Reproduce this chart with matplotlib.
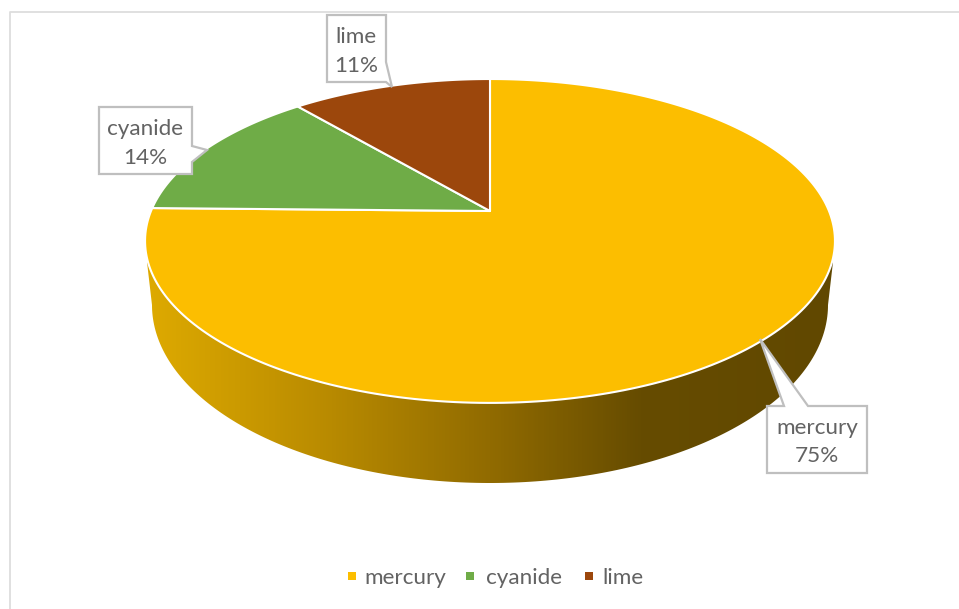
import numpy as np
import matplotlib
matplotlib.use("Agg")
import matplotlib.pyplot as plt
from matplotlib.patches import Polygon, Rectangle
from matplotlib.colors import LinearSegmentedColormap

categories = ["mercury", "cyanide", "lime"]
values = [75.3, 13.5, 11.2]
colors = ["#FCBE00", "#6FAC47", "#9C470C"]

plt.rcParams["font.family"] = ["Lato", "DejaVu Sans"]
TEXT = "#636363"
FS = 16.2
W, H = 959, 609
fig = plt.figure(figsize=(W / 100, H / 100), dpi=100, facecolor="white")
ax = fig.add_axes([0, 0, 1, 1])
ax.set_xlim(0, W)
ax.set_ylim(H, 0)
ax.axis("off")

# chart frame
ax.plot([10, 10, W], [H, 11.5, 11.5], color="#DDDDDD", lw=1.3, zorder=1)

# perspective projection of a unit disk on the screen
CX, CY, A, B, K = 490, 211, 339, 156.4, 0.185


def project(theta_deg):
    t = np.radians(theta_deg)
    u, v = np.sin(t), np.cos(t)
    w = 1 + K * v
    return CX + A * u / w, CY - B * v / w


fractions = np.cumsum([0] + values) / sum(values) * 360

# side wall with horizontal gradient, clipped to its outline
t = np.linspace(0, np.pi, 200)
sx = 490 + 338 * np.cos(t)
sy = 305 + 178 * np.sin(t)
outline = np.column_stack([
    np.r_[833, sx, 147],
    np.r_[262, sy, 262],
])
side = Polygon(outline, closed=True, fc="none", ec="none", transform=ax.transData)
ax.add_patch(side)
cmap = LinearSegmentedColormap.from_list(
    "side",
    [(0.0, (222 / 255, 170 / 255, 0)),
     (0.27, (184 / 255, 138 / 255, 0)),
     (0.50, (145 / 255, 107 / 255, 0)),
     (0.72, (102 / 255, 76 / 255, 0)),
     (1.0, (97 / 255, 72 / 255, 0))],
)
im = ax.imshow(np.linspace(0, 1, 700)[None, :], extent=(145, 835, 490, 255),
               cmap=cmap, aspect="auto", zorder=2)
ax.set_xlim(0, W)
ax.set_ylim(H, 0)
im.set_clip_path(side)

# top surface wedges
for start, end, col in zip(fractions[:-1], fractions[1:], colors):
    th = np.linspace(start, end, 240)
    x, y = project(th)
    pts = np.column_stack([np.r_[CX, x], np.r_[CY, y]])
    ax.add_patch(Polygon(pts, closed=True, fc=col, ec="white", lw=1.5,
                         joinstyle="round", zorder=3))


# callouts
def callout(verts, name, val, cx, cy):
    ax.add_patch(Polygon(verts, closed=True, fc="white", ec="#BFBFBF", lw=1.6,
                         joinstyle="miter", zorder=4))
    ax.text(cx, cy, f"{name}\n{val:.0f}%", ha="center", va="center", fontsize=FS,
            color=TEXT, linespacing=1.55, zorder=5)


callout([(767, 406), (784, 406), (760, 339), (808, 406), (867, 406), (867, 473), (767, 473)],
        categories[0], values[0], 817, 442)
callout([(99, 107), (192, 107), (192, 146), (207, 150), (192, 162), (192, 174), (99, 174)],
        categories[1], values[1], 145, 143.5)
callout([(327, 15), (386, 15), (386, 62), (392, 87), (386, 82), (327, 82)],
        categories[2], values[2], 356, 51.5)

# legend
marker_x = [352, 470, 589]
text_x = [364, 486, 602]
for mx, tx, name, col in zip(marker_x, text_x, categories, colors):
    ax.add_patch(Rectangle((mx - 4, 572), 8, 8, fc=col, ec="none", zorder=5))
    ax.text(tx, 578, name, ha="left", va="center", fontsize=FS, color=TEXT, zorder=5)

fig.savefig("out.png", dpi=100, facecolor="white")
